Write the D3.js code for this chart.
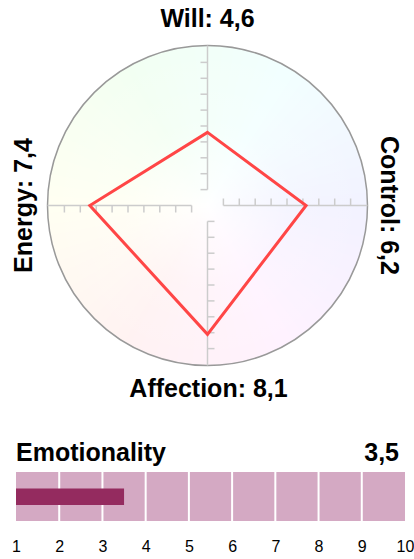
<!DOCTYPE html>
<html>
<head>
<meta charset="utf-8">
<script src="https://cdn.jsdelivr.net/npm/d3@7"></script>
<style>
  body { margin: 0; background: #fff; }
  text { font-family: "Liberation Sans", Arial, sans-serif; }
</style>
</head>
<body>
<div id="chart"></div>
<script>
// data
var axisNames = ["Will", "Control", "Affection", "Energy"];
var axisValues = [4.6, 6.2, 8.1, 7.4];
var barLabel = "Emotionality";
var barValue = 3.5;
var barTicks = [1, 2, 3, 4, 5, 6, 7, 8, 9, 10];

var svgWidth = 414;
var svgHeight = 559;

var svg = d3.select("#chart")
  .append("svg")
  .attr("width", svgWidth)
  .attr("height", svgHeight);

var fmt = function(v) { return String(v).replace(".", ","); };

// radar part
var cx = 207.5, cy = 205.5, R = 160;
var rScale = d3.scaleLinear().domain([0, 10]).range([0, 159]);

var radar = svg.append("g")
  .attr("transform", `translate(${cx}, ${cy})`);

// pastel hue wheel background
var arc = d3.arc().innerRadius(0).outerRadius(R);
var steps = d3.range(0, 360, 2);
radar.append("g")
  .selectAll("path")
  .data(steps)
  .enter()
  .append("path")
  .attr("d", d => arc({startAngle: (d - 0.6) * Math.PI / 180, endAngle: (d + 2.6) * Math.PI / 180}))
  .attr("fill", d => d3.hsl((150 + d) % 360, 1, 0.975).toString());

var defs = svg.append("defs");
var grad = defs.append("radialGradient").attr("id", "fade");
grad.append("stop").attr("offset", "0%").attr("stop-color", "#fff").attr("stop-opacity", 1);
grad.append("stop").attr("offset", "10%").attr("stop-color", "#fff").attr("stop-opacity", 0.75);
grad.append("stop").attr("offset", "50%").attr("stop-color", "#fff").attr("stop-opacity", 0.2);
grad.append("stop").attr("offset", "100%").attr("stop-color", "#fff").attr("stop-opacity", 0);
radar.append("circle").attr("r", R).attr("fill", "url(#fade)");

radar.append("circle")
  .attr("r", R)
  .attr("fill", "none")
  .attr("stroke", "#999")
  .attr("stroke-width", 1.5);

// axes: each drawn pointing up then rotated, ticks on the left side
var tickVals = d3.range(1, 10);
axisNames.forEach(function(name, i) {
  var g = radar.append("g").attr("transform", `rotate(${i * 90})`);
  g.append("line")
    .attr("x1", 0).attr("x2", 0)
    .attr("y1", -rScale(1)).attr("y2", -R)
    .attr("stroke", "#ccc")
    .attr("stroke-width", 1.5);
  g.selectAll("line.tick")
    .data(tickVals)
    .enter()
    .append("line")
    .attr("class", "tick")
    .attr("x1", 0).attr("x2", -7)
    .attr("y1", d => -rScale(d)).attr("y2", d => -rScale(d))
    .attr("stroke", "#ccc")
    .attr("stroke-width", 1.5);
});

// value polygon
var pts = axisValues.map(function(v, i) {
  var a = i * Math.PI / 2;
  return [Math.sin(a) * rScale(v), -Math.cos(a) * rScale(v)];
});
radar.append("path")
  .attr("d", d3.line().curve(d3.curveLinearClosed)(pts))
  .attr("fill", "none")
  .attr("stroke", "#ff4646")
  .attr("stroke-width", 3)
  .attr("stroke-linejoin", "miter");

// axis labels
var labelPos = [
  {x: cx, y: 27, rot: 0},
  {x: 381, y: cy, rot: 90},
  {x: cx + 1, y: 397, rot: 0},
  {x: 32, y: cy, rot: -90}
];
svg.append("g")
  .selectAll("text")
  .data(axisNames)
  .enter()
  .append("text")
  .attr("transform", (d, i) => `translate(${labelPos[i].x}, ${labelPos[i].y}) rotate(${labelPos[i].rot})`)
  .attr("text-anchor", "middle")
  .attr("font-size", "25px")
  .attr("font-weight", "bold")
  .attr("fill", "#000")
  .text((d, i) => `${d}: ${fmt(axisValues[i])}`);

// emotionality bar
var xBar = d3.scaleLinear().domain([1, 10]).range([16, 405]);
var barTop = 472, barH = 49;

svg.append("text")
  .attr("x", 16).attr("y", 461)
  .attr("font-size", "25px")
  .attr("font-weight", "bold")
  .text(barLabel);

svg.append("text")
  .attr("x", 399).attr("y", 461)
  .attr("text-anchor", "end")
  .attr("font-size", "25px")
  .attr("font-weight", "bold")
  .text(fmt(barValue));

svg.append("g")
  .selectAll("rect")
  .data(barTicks.slice(0, -1))
  .enter()
  .append("rect")
  .attr("x", d => xBar(d) + (d === 1 ? 0 : 1))
  .attr("y", barTop)
  .attr("width", d => xBar(d + 1) - xBar(d) - (d === 1 ? 1 : 2) + (d === 9 ? 1 : 0))
  .attr("height", barH)
  .attr("fill", "#d4a9c3");

svg.append("rect")
  .attr("x", xBar(1))
  .attr("y", barTop + 16.5)
  .attr("width", xBar(barValue) - xBar(1))
  .attr("height", 16.5)
  .attr("fill", "#942b5f");

var xAxis = d3.axisBottom(xBar).tickValues(barTicks).tickSize(0).tickPadding(0);
var axG = svg.append("g")
  .attr("transform", `translate(0, ${barTop + barH})`)
  .call(xAxis);
axG.select(".domain").remove();
axG.selectAll("text")
  .attr("y", 31)
  .attr("dy", 0)
  .attr("font-size", "16px")
  .attr("font-family", "Liberation Sans, Arial, sans-serif")
  .attr("fill", "#000");
</script>
</body>
</html>
